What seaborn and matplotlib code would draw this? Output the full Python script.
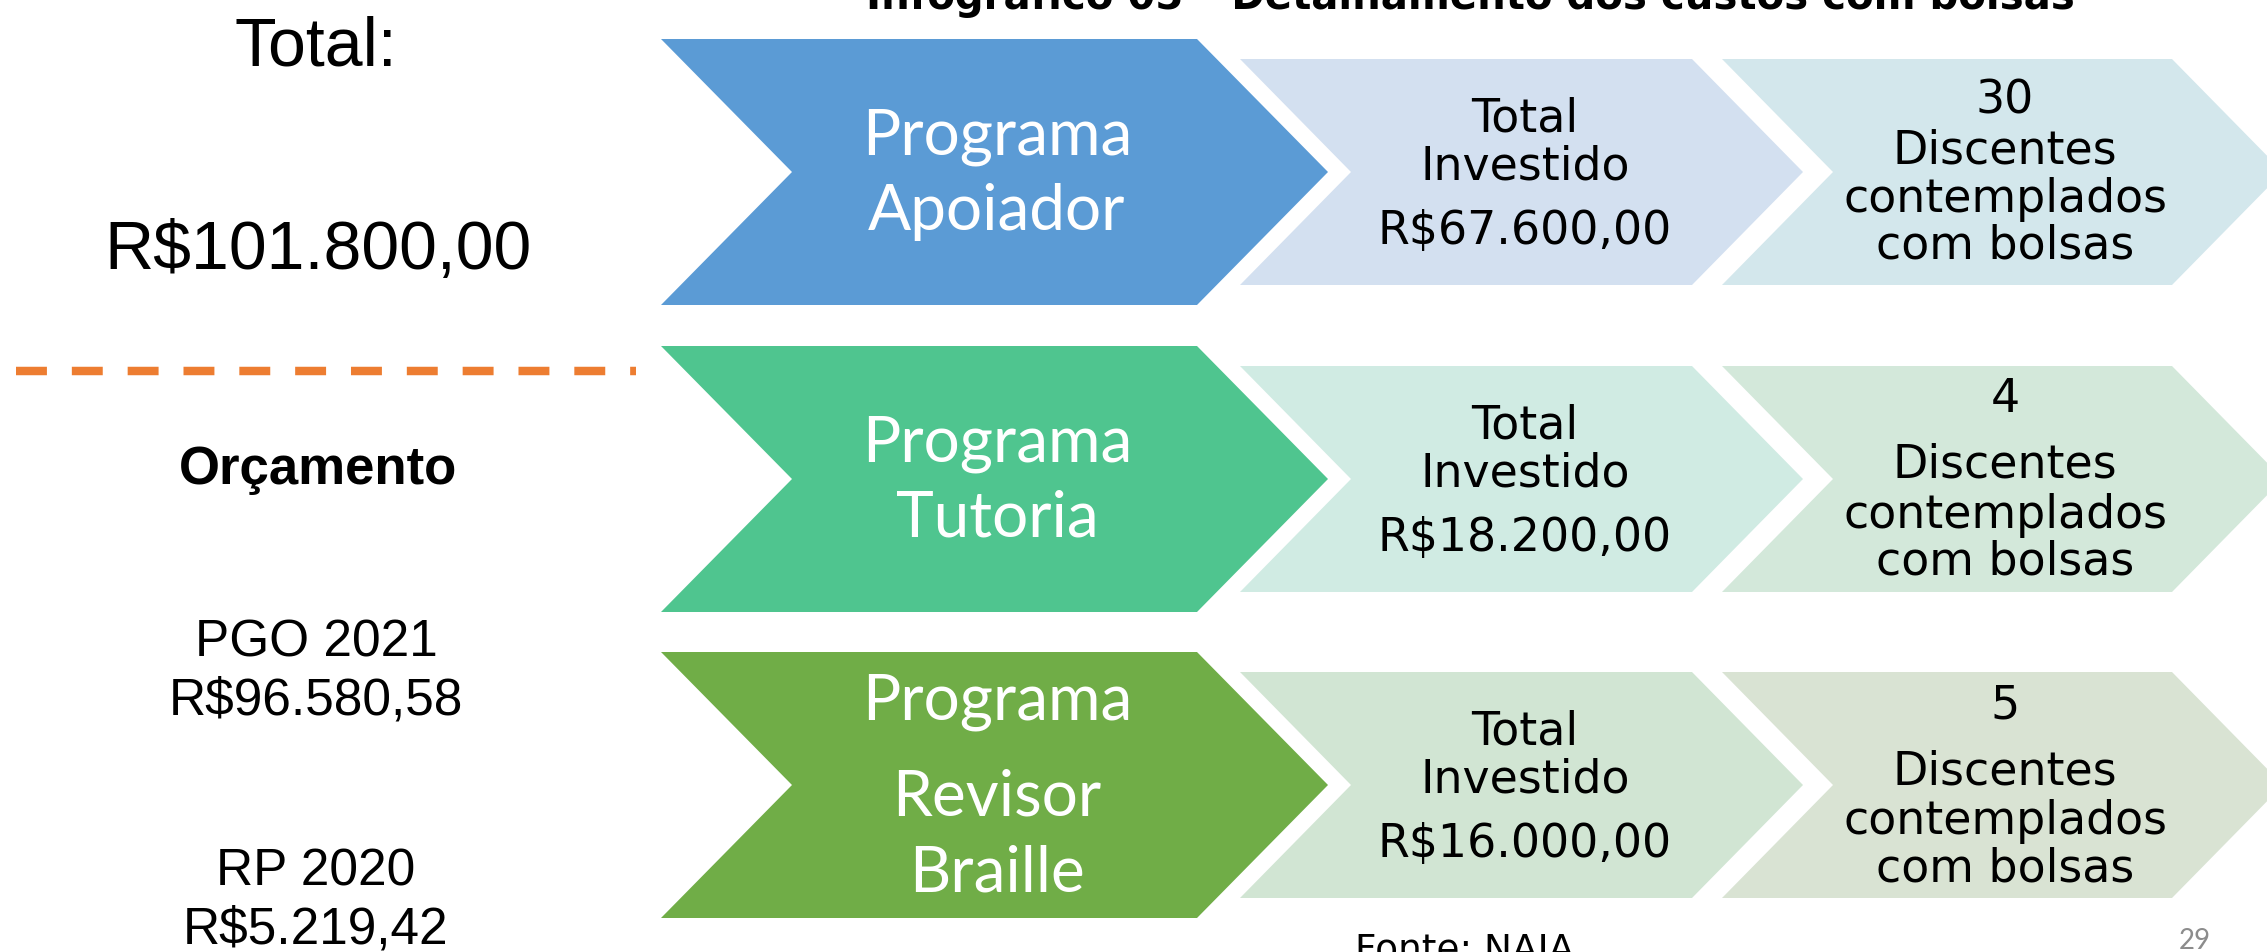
import matplotlib
matplotlib.use("Agg")
import matplotlib.pyplot as plt
from matplotlib.patches import Polygon
import seaborn as sns

programas = [["Programa", "Apoiador"], ["Programa", "Tutoria"], ["Programa", "Revisor", "Braille"]]
investido = ["R$67.600,00", "R$18.200,00", "R$16.000,00"]
discentes = ["30", "4", "5"]
total_geral = "R$101.800,00"
orcamento_rotulos = ["PGO 2021", "RP 2020"]
orcamento_valores = ["R$96.580,58", "R$5.219,42"]

cores_forte = ["#5B9BD5", "#4FC58F", "#70AD47"]
cores_claro1 = ["#D3E0F0", "#D0EBE3", "#D1E5D3"]
cores_claro2 = ["#D3E7EC", "#D3E8DA", "#D9E3D3"]

W, H = 2267, 953

sns.set_theme(style="white")
plt.rcParams['font.family'] = ['DejaVu Sans']
plt.rcParams['text.color'] = 'black'

fig = plt.figure(figsize=(W / 100, H / 100), dpi=100)
ax = fig.add_axes([0, 0, 1, 1])
ax.set_xlim(0, W)
ax.set_ylim(H, 0)
ax.axis("off")


def chevron(x_left, x_right, depth, y_top, y_bot, color):
    ym = (y_top + y_bot) / 2
    pts = [(x_left, y_top), (x_right, y_top), (x_right + depth, ym),
           (x_right, y_bot), (x_left, y_bot), (x_left + depth, ym)]
    ax.add_patch(Polygon(pts, closed=True, facecolor=color, edgecolor="none"))


row_tops = [40, 347, 653]
big_offsets = [[114, 190], [115, 190], [67, 163, 239]]
box3_offsets = [[73, 123, 172, 219], [65, 131, 181, 228], [66, 132, 181, 229]]

for i, top in enumerate(row_tops):
    chevron(661, 1197, 131, top, top + 266, cores_forte[i])
    chevron(1240, 1692, 111, top + 20, top + 246, cores_claro1[i])
    chevron(1722, 2172, 111, top + 20, top + 246, cores_claro2[i])

    for txt, off in zip(programas[i], big_offsets[i]):
        ax.text(997, top + off, txt, ha="center", va="baseline", color="white",
                fontsize=46, family="Lato")

    for txt, off in zip(["Total", "Investido", investido[i]], [92, 140, 204]):
        ax.text(1525, top + off, txt, ha="center", va="baseline", color="black", fontsize=33)

    for txt, off in zip([discentes[i], "Discentes", "contemplados", "com bolsas"], box3_offsets[i]):
        ax.text(2005, top + off, txt, ha="center", va="baseline", color="black", fontsize=33)

# left column
ax.text(316, 66, "Total:", ha="center", va="baseline", fontsize=49, family="Liberation Sans")
ax.text(318, 269, total_geral, ha="center", va="baseline", fontsize=49, family="Liberation Sans")
ax.plot([16, 636], [372, 372], color="#ED7D31", linewidth=6.1,
        linestyle=(0, (3.65, 2.94)), solid_capstyle="butt", dash_capstyle="butt")
ax.text(318, 484, "Orçamento", ha="center", va="baseline", fontsize=38,
        fontweight="bold", family="Liberation Sans")
for lab, val, yb in zip(orcamento_rotulos, orcamento_valores, [657, 886]):
    ax.text(316, yb, lab, ha="center", va="baseline", fontsize=37, family="Liberation Sans")
    ax.text(316, yb + 58, val, ha="center", va="baseline", fontsize=37, family="Liberation Sans")

# title (cut at the top edge) and footer
ax.text(1470, 9, "Infográfico 05 – Detalhamento dos custos com bolsas", ha="center",
        va="baseline", fontsize=29, fontweight="bold")
ax.text(1355, 961, "Fonte: NAIA", ha="left", va="baseline", fontsize=27)
ax.text(2195, 949, "29", ha="center", va="baseline", fontsize=20, color="#8C8C8C", family="Lato")

fig.savefig("out.png", dpi=100)
